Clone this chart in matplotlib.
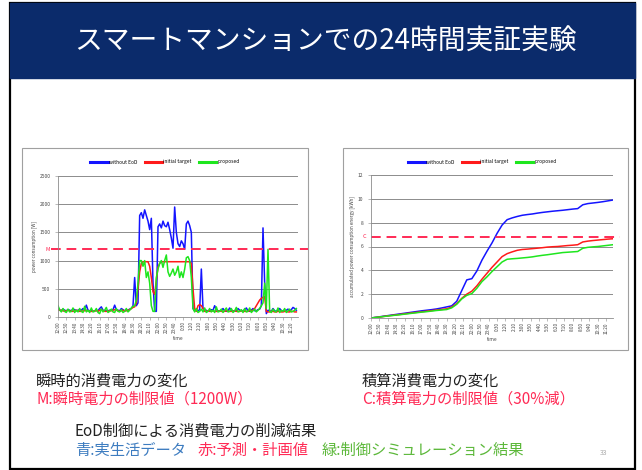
import numpy as np
import matplotlib
matplotlib.use("Agg")
import matplotlib.pyplot as plt
from matplotlib.patches import Rectangle

plt.rcParams['font.family'] = ['Noto Sans CJK JP', 'DejaVu Sans']

# 瞬時消費電力 [W] 10分毎 (12:00 から 24時間)
power_blue = [150, 120, 110, 140, 120, 110, 130, 120, 110, 140, 130, 110, 120, 130, 120, 150,
              130, 210, 120, 110, 120, 100, 110, 120, 110, 150, 180, 120, 110, 110, 110, 120,
              120, 130, 210, 130, 120, 110, 150, 130, 110, 120, 120, 140, 150, 200,
              700, 200, 250, 1800, 1850, 1750, 1900, 1800, 1700, 1550, 1750, 600,
              100, 100,
              1600, 1650, 1580, 1700, 1620, 1600, 1680, 1550, 1400, 1220, 1950, 1500, 1300,
              1250, 1350, 1300, 1200, 1650, 1700, 1620, 1500,
              150, 110, 120, 110, 130, 850, 150,
              110, 120, 100, 110, 130, 120, 200, 130, 110, 110, 120, 150, 110, 100, 110, 160,
              120, 110, 100, 110, 150, 120, 110, 110, 130, 160, 110, 100, 120, 150, 110, 110,
              130, 140, 200,
              1580, 600,
              60, 120, 110, 100, 150, 110, 100, 120, 150, 110, 110, 100, 120, 140, 110, 130,
              170, 150, 120]
power_red = [130, 120, 120, 110, 100, 110, 120, 110, 100, 100, 110, 120, 110, 100, 100, 110,
             110, 120, 110, 100, 100, 100, 110, 110, 100, 120, 130, 110, 100, 100, 100, 110,
             110, 120, 130, 120, 110, 100, 110, 120, 110, 110, 120, 130, 150, 170,
             180, 250, 500, 800, 950, 980, 980, 980, 980, 900, 700, 450, 400, 650, 880, 950,
             980, 980, 980, 980, 980, 980, 980, 980, 980, 980, 980, 980, 980, 980, 980, 980,
             980, 980, 950, 500,
             150, 100, 200, 220, 200, 150, 100, 100, 110, 100, 100, 110, 100, 100, 100, 110,
             100, 100, 100, 110, 100, 100, 100, 100, 110, 100, 100, 100, 110, 100, 100, 100,
             100, 110, 110, 120,
             150, 200, 250, 300, 330, 350, 360,
             100, 90, 90, 100, 100, 90, 90, 100, 100, 90, 90, 100, 100, 90, 90, 100, 100, 90, 90]
power_green = [200, 130, 90, 150, 100, 80, 140, 90, 100, 160, 80, 120, 90, 150, 100, 80,
               190, 90, 120, 80, 160, 90, 100, 150, 80, 60, 140, 90, 120, 170, 80, 100,
               140, 90, 80, 150, 100, 90, 130, 80, 100, 150, 90, 120, 160, 190,
               200, 300, 600, 1000, 1000, 900, 1000, 700, 800, 600, 200, 100, 100, 700, 850, 950,
               1000, 880, 1000, 1100, 800, 720, 780, 850, 740, 800, 900, 700, 800, 700, 850, 1050,
               1070, 1000, 700, 150,
               90, 150, 80, 100, 140, 90, 160, 80, 100, 150, 90, 120, 80, 180, 90, 100,
               140, 80, 120, 160, 90, 100, 150, 80, 110, 170, 90, 100, 130, 80, 150, 90,
               100, 160, 80, 110, 140, 90, 120, 150, 200, 250,
               600, 150, 1200, 100,
               80, 140, 100, 90, 160, 80, 120, 100, 150, 80, 110, 140, 90, 100, 120, 150]

# 積算消費電力 [kWh] 30分毎
energy_blue = [0, 0.06, 0.12, 0.18, 0.24, 0.3, 0.36, 0.42, 0.48, 0.54, 0.6, 0.65, 0.7, 0.76,
               0.84, 0.93, 1.02, 1.4, 2.3, 3.2, 3.3, 3.95, 4.85, 5.6, 6.3, 7.1, 7.8, 8.25, 8.4,
               8.52, 8.62, 8.68, 8.73, 8.8, 8.86, 8.91, 8.96, 9.0, 9.04, 9.09, 9.14, 9.18, 9.5,
               9.6, 9.65, 9.7, 9.76, 9.83, 9.9]
energy_red = [0, 0.05, 0.1, 0.16, 0.21, 0.26, 0.31, 0.37, 0.42, 0.47, 0.52, 0.57, 0.62, 0.67,
              0.72, 0.77, 0.92, 1.2, 1.65, 2.0, 2.25, 2.7, 3.25, 3.75, 4.25, 4.7, 5.15, 5.4, 5.55,
              5.68, 5.75, 5.78, 5.82, 5.86, 5.9, 5.95, 5.98, 6.0, 6.04, 6.08, 6.11, 6.15, 6.38,
              6.45, 6.5, 6.54, 6.58, 6.62, 6.65]
energy_green = [0, 0.05, 0.1, 0.15, 0.2, 0.24, 0.29, 0.34, 0.39, 0.44, 0.49, 0.53, 0.58, 0.63,
                0.67, 0.71, 0.85, 1.15, 1.6, 1.9, 2.05, 2.5, 3.05, 3.45, 3.9, 4.3, 4.7, 4.93, 4.97,
                5.0, 5.04, 5.08, 5.13, 5.2, 5.26, 5.31, 5.37, 5.43, 5.49, 5.52, 5.55, 5.58, 5.85,
                5.93, 5.97, 6.0, 6.05, 6.1, 6.15]

time_labels = ["12:00", "12:50", "13:40", "14:30", "15:20", "16:10", "17:00", "17:50", "18:40",
               "19:30", "20:20", "21:10", "22:00", "22:50", "23:40", "0:30", "1:20", "2:10",
               "3:00", "3:50", "4:40", "5:30", "6:20", "7:10", "8:00", "8:50", "9:40", "10:30",
               "11:20"]
series_names = ["without EoD", "initial target", "proposed"]
power_limit = 1200   # M
energy_limit = 6.8   # C

W, H = 642, 470
BLUE, RED, GREEN = '#1414ff', '#ff1a1a', '#1ee61e'
LIMIT_RED = '#ff2a55'


def rect(x0, y0, x1, y1):
    # ピクセル座標 (左上原点) -> figure 座標
    return [x0 / W, 1 - y1 / H, (x1 - x0) / W, (y1 - y0) / H]


def ftext(x, y, s, **kw):
    fig.text(x / W, 1 - y / H, s, **kw)


fig = plt.figure(figsize=(W / 100, H / 100), dpi=100)
fig.patch.set_facecolor('white')

# スライド枠とタイトル帯 (軸より下に描く)
fig.patches.append(Rectangle((10 / W, 1 - 469 / H), 625 / W, 466 / H, transform=fig.transFigure,
                             facecolor='white', edgecolor='black', lw=1.6, zorder=-10))
fig.patches.append(Rectangle((10 / W, 1 - 78 / H), 625 / W, 75 / H, transform=fig.transFigure,
                             facecolor='#0b2b6b', edgecolor='#0b2b6b', lw=1, zorder=-9))
ftext(325, 42, "スマートマンションでの24時間実証実験", color='white', fontsize=20,
      ha='center', va='center')

# グラフの外枠
for x0, x1 in [(22, 308), (343, 628)]:
    fig.patches.append(Rectangle((x0 / W, 1 - 350 / H), (x1 - x0) / W, 202 / H,
                                 transform=fig.transFigure, facecolor='white',
                                 edgecolor='#a0a0a0', lw=0.8, zorder=-8))

t_power = np.arange(len(power_blue)) / 6.0
t_energy = np.arange(len(energy_blue)) / 2.0
tick_pos = np.arange(len(time_labels)) * 50 / 60.0


def style_axes(ax, ylabel):
    ax.set_facecolor('none')
    ax.set_xlim(0, 24)
    ax.set_xticks(tick_pos)
    ax.set_xticklabels(time_labels, rotation=90, fontsize=3.3)
    ax.tick_params(axis='y', labelsize=3.5, length=2, width=0.4, colors='#888888')
    ax.tick_params(axis='x', length=2, width=0.4, colors='#888888', pad=1)
    for lbl in ax.get_xticklabels() + ax.get_yticklabels():
        lbl.set_color('#444444')
    ax.grid(axis='y', color='#8c8c8c', lw=0.7)
    ax.set_axisbelow(True)
    for s in ['top', 'right']:
        ax.spines[s].set_visible(False)
    for s in ['left', 'bottom']:
        ax.spines[s].set_color('#8c8c8c')
        ax.spines[s].set_linewidth(0.6)
    ax.set_xlabel("time", fontsize=3.5, color='#444444', labelpad=2)
    ax.set_ylabel(ylabel, fontsize=3.3, color='#444444', labelpad=2)


def add_legend(ax, cx):
    leg = ax.legend(loc='center', bbox_to_anchor=(cx / W, 1 - 162 / H),
                    bbox_transform=fig.transFigure, ncol=3, fontsize=3.5, frameon=False,
                    handlelength=3.5, columnspacing=1.5, handletextpad=0.3)
    for line in leg.get_lines():
        line.set_linewidth(2.2)


# 瞬時消費電力
ax1 = fig.add_axes(rect(58, 176, 298, 317))
ax1.plot(t_power, power_blue, color=BLUE, lw=1.1, label=series_names[0])
ax1.plot(t_power, power_red, color=RED, lw=1.1, label=series_names[1])
ax1.plot(t_power, power_green, color=GREEN, lw=1.1, label=series_names[2])
ax1.set_ylim(0, 2500)
ax1.set_yticks([0, 500, 1000, 1500, 2000, 2500])
style_axes(ax1, "power consumption [W]")
ax1.axhline(power_limit, xmin=-0.03, xmax=1.04, clip_on=False, color=LIMIT_RED, lw=1.4,
            dashes=(5, 3))
ax1.text(-0.035, power_limit, "M", transform=ax1.get_yaxis_transform(), color=LIMIT_RED,
         fontsize=4, ha='right', va='center')
add_legend(ax1, 165)

# 積算消費電力
ax2 = fig.add_axes(rect(371, 175, 613, 318))
ax2.plot(t_energy, energy_blue, color=BLUE, lw=1.1, label=series_names[0])
ax2.plot(t_energy, energy_red, color=RED, lw=1.1, label=series_names[1])
ax2.plot(t_energy, energy_green, color=GREEN, lw=1.1, label=series_names[2])
ax2.set_ylim(0, 12)
ax2.set_yticks([0, 2, 4, 6, 8, 10, 12])
style_axes(ax2, "accumulated power consumption energy [kWh]")
ax2.axhline(energy_limit, xmin=0, xmax=1.03, clip_on=False, color=LIMIT_RED, lw=1.4,
            dashes=(5, 3))
ax2.text(-0.02, energy_limit, "C", transform=ax2.get_yaxis_transform(), color=LIMIT_RED,
         fontsize=4, ha='right', va='center')
add_legend(ax2, 482)

# 説明文
ftext(36, 381, "瞬時的消費電力の変化", fontsize=11, color='#222222', va='center')
ftext(36, 399, "M:瞬時電力の制限値（1200W）", fontsize=11, color=LIMIT_RED, va='center')
ftext(362, 381, "積算消費電力の変化", fontsize=11, color='#222222', va='center')
ftext(362, 399, "C:積算電力の制限値（30%減）", fontsize=11, color=LIMIT_RED, va='center')
ftext(75, 431, "EoD制御による消費電力の削減結果", fontsize=11, color='#222222', va='center')
ftext(75, 450, "青:実生活データ", fontsize=11, color='#3d7cc0', va='center')
ftext(198, 450, "赤:予測・計画値", fontsize=11, color=LIMIT_RED, va='center')
ftext(322, 450, "緑:制御シミュレーション結果", fontsize=11, color='#5cb83a', va='center')
ftext(600, 453, "33", fontsize=5, color='#aaaaaa', va='center')

fig.savefig("out.png", dpi=100)
